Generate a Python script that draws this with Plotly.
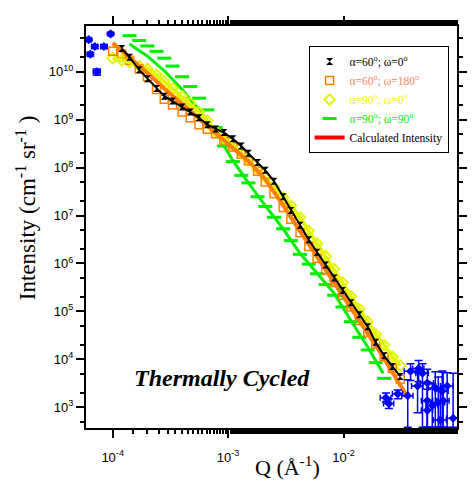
import plotly.graph_objects as go

# ---------------- data ----------------
q_grid = [1.0e-4, 1.2e-4, 1.4e-4, 1.7e-4, 2.0e-4, 2.4e-4, 2.8e-4, 3.3e-4, 4.0e-4, 4.7e-4,
          5.6e-4, 6.6e-4, 7.8e-4, 9.2e-4, 1.1e-3, 1.3e-3, 1.5e-3, 1.8e-3, 2.1e-3, 2.5e-3,
          3.0e-3, 3.5e-3, 4.2e-3, 5.0e-3, 5.9e-3, 7.0e-3, 8.3e-3, 9.8e-3, 1.16e-2, 1.37e-2,
          1.62e-2, 1.9e-2, 2.25e-2, 2.65e-2, 3.1e-2]

i_a60_w0 = [None, 3.08e10, 2.02e10, 1.10e10, 7.2e9, 4.5e9, 3.10e9, 2.45e9, 1.85e9, 1.46e9,
            1.10e9, 7.9e8, 6.4e8, 5.4e8, 4.0e8, 2.83e8, 1.99e8, 1.28e8, 8.8e7, 5.2e7,
            2.47e7, 1.28e7, 6.3e6, 3.14e6, 1.71e6, 9.3e5, 5.0e5, 2.74e5, 1.52e5, 8.5e4,
            4.8e4, 2.28e4, 1.18e4, 7.1e3, 4.4e3]

i_a60_w180 = [2.68e10, 2.33e10, 1.75e10, 1.15e10, 7.9e9, 4.3e9, 2.69e9, 2.03e9, 1.46e9, 1.10e9,
              7.9e8, 6.3e8, 5.1e8, 3.58e8, 2.70e8, 1.90e8, 1.40e8, 8.4e7, 5.0e7, 2.85e7,
              1.48e7, 8.4e6, 4.4e6, 2.26e6, 1.29e6, 7.3e5, 4.0e5, 2.17e5, 1.24e5, 6.4e4,
              3.65e4, 2.08e4, 1.13e4, 6.4e3, 3.85e3]

i_a90_w0 = [1.93e10, 1.75e10, 1.60e10, 1.32e10, 1.15e10, 8.7e9, 6.3e9, 4.5e9, 3.10e9, 2.23e9,
            1.46e9, 9.6e8, 5.7e8, 4.1e8, 2.97e8, 2.04e8, 1.44e8, 9.2e7, 6.3e7, 3.95e7,
            2.36e7, 1.62e7, 9.2e6, 4.8e6, 2.60e6, 1.42e6, 7.7e5, 4.0e5, 2.07e5, 1.12e5,
            6.1e4, 3.32e4, 1.98e4, 1.13e4, 7.4e3]

i_a90_w90 = [None, None, 5.7e10, 4.5e10, 3.47e10, 2.68e10, 1.93e10, 1.32e10, 7.9e9, 4.95e9,
             2.82e9, 1.61e9, 6.9e8, 2.83e8, 1.34e8, 6.9e7, 4.8e7, 2.47e7, 1.55e7, 9.2e6,
             5.3e6, 3.0e6, 1.55e6, 9.7e5, 6.1e5, 3.63e5, 2.17e5, 1.24e5, 6.1e4, 2.88e4,
             1.57e4, 8.5e3, 4.0e3, None, None]

# calculated intensity curves
q_fit_a60_w180 = [1.0e-4, 1.4e-4, 2.0e-4, 2.8e-4, 4.0e-4, 5.6e-4, 7.8e-4, 1.1e-3, 1.5e-3, 2.1e-3,
                  3.0e-3, 4.2e-3, 5.9e-3, 8.3e-3, 1.16e-2, 1.62e-2, 2.25e-2, 3.45e-2]
i_fit_a60_w180 = [3.99e10, 2.02e10, 9.5e9, 4.5e9, 2.13e9, 1.05e9, 4.98e8, 2.58e8, 1.37e8, 5.75e7,
                  1.62e7, 4.8e6, 1.42e6, 4.0e5, 1.18e5, 3.48e4, 1.03e4, 1.9e3]

q_fit_a90_w90 = [1.4e-4, 2.0e-4, 2.8e-4, 4.0e-4, 5.6e-4, 7.8e-4, 1.1e-3, 1.5e-3, 2.1e-3, 3.0e-3,
                 4.2e-3, 5.9e-3, 8.3e-3, 1.16e-2, 1.62e-2, 2.2e-2]
i_fit_a90_w90 = [3.80e10, 2.12e10, 1.05e10, 4.3e9, 1.61e9, 5.7e8, 1.40e8, 4.8e7, 1.62e7, 5.3e6,
                 1.63e6, 6.1e5, 2.38e5, 6.4e4, 1.81e4, 5.1e3]

# extra (blue) points at the Q-range ends
q_blue_low = [6.2e-5, 7.0e-5, 8.4e-5, 9.6e-5, 6.4e-5, 7.3e-5]
i_blue_low = [4.7e10, 3.39e10, 3.39e10, 6.2e10, 2.33e10, 1.0e10]
ie_blue_low = [3e9, 3e9, 3e9, 4e9, 2e9, 1.5e9]
qe_blue_low = [3e-6, 4e-6, 5e-6, 4e-6, 3e-6, 5e-6]

q_blue_high = [2.33e-2, 2.47e-2, 2.95e-2, 3.60e-2, 3.81e-2, 4.47e-2, 4.83e-2, 4.38e-2, 5.32e-2, 6.24e-2,
               5.32e-2, 5.87e-2, 6.62e-2, 7.3e-2, 5.32e-2, 6.89e-2, 8.9e-2, 7.16e-2, 7.9e-2]
i_blue_high = [1.58e3, 1.19e3, 1.90e3, 1.73e3, 5.6e3, 6.4e3, 5.1e3, 2.77e3, 3.19e3, 2.52e3,
               1.37e3, 1.08e3, 1.25e3, 1.37e3, 8.6e2, 5.4e2, 5.9e2, 2.19e3, 2.77e3]
ie_plus_blue_high = [4e2, 3e2, 4e2, 2.0e3, 2.5e3, 3.0e3, 3.0e3, 2.5e3, 3.0e3, 3.0e3,
                     2.0e3, 2.0e3, 3.0e3, 4.0e3, 1.5e3, 2.0e3, 4.5e3, 3.5e3, 2.5e3]
ie_minus_blue_high = [3e2, 2.5e2, 4e2, 1.35e3, 2.0e3, 3.0e3, 4.72e3, 2.0e3, 2.81e3, 2.14e3,
                      9.9e2, 7.0e2, 8.7e2, 9.9e2, 4.8e2, 1.6e2, 2.1e2, 1.81e3, 2.39e3]
qe_blue_high = [2.5e-3, 2.5e-3, 3e-3, 4e-3, 4.5e-3, 5e-3, 6e-3, 5e-3, 7e-3, 8e-3,
                6e-3, 7e-3, 9e-3, 9e-3, 6e-3, 9e-3, 1.1e-2, 9e-3, 1.0e-2]

x_tickvals = [1e-4, 1e-3, 1e-2]
x_ticktext = ["10<sup>-4</sup>", "10<sup>-3</sup>", "10<sup>-2</sup>"]
y_tickvals = [1e3, 1e4, 1e5, 1e6, 1e7, 1e8, 1e9, 1e10]
y_ticktext = ["10<sup>3</sup>", "10<sup>4</sup>", "10<sup>5</sup>", "10<sup>6</sup>",
              "10<sup>7</sup>", "10<sup>8</sup>", "10<sup>9</sup>", "10<sup>10</sup>"]

# ---------------- styles ----------------
C_BLACK = "#000000"
C_ORANGE = "#FF8000"
C_YELLOW = "#E1F500"
C_GREEN = "#00EE00"
C_BLUE = "#0000FF"
C_RED = "#FF0000"
SERIF = "Liberation Serif, Times New Roman"

fig = go.Figure()

# green data + fit
fig.add_trace(go.Scatter(x=q_grid, y=i_a90_w90, mode="markers",
                         marker=dict(symbol="line-ew", size=10, color=C_GREEN,
                                     line=dict(color=C_GREEN, width=3)),
                         name="<span style='color:#00EE00'>α=90<sup>o</sup>; ω=90<sup>o</sup></span>",
                         legendrank=4))
fig.add_trace(go.Scatter(x=q_fit_a90_w90, y=i_fit_a90_w90, mode="lines",
                         line=dict(color=C_GREEN, width=3), showlegend=False))

# yellow data
fig.add_trace(go.Scatter(x=q_grid, y=i_a90_w0, mode="markers",
                         marker=dict(symbol="diamond-open", size=8, color=C_YELLOW,
                                     line=dict(color=C_YELLOW, width=2)),
                         name="<span style='color:#F5F500'>α=90<sup>o</sup>; ω=0<sup>o</sup></span>",
                         legendrank=3))
# orange data
fig.add_trace(go.Scatter(x=q_grid, y=i_a60_w180, mode="markers",
                         marker=dict(symbol="square-open", size=8, color=C_ORANGE,
                                     line=dict(color=C_ORANGE, width=1.5)),
                         name="<span style='color:#F4875F'>α=60<sup>o</sup>; ω=180<sup>o</sup></span>",
                         legendrank=2))
# yellow fit
fig.add_trace(go.Scatter(x=q_grid, y=i_a90_w0, mode="lines",
                         line=dict(color=C_YELLOW, width=4), showlegend=False))
# orange fit
fig.add_trace(go.Scatter(x=q_fit_a60_w180, y=i_fit_a60_w180, mode="lines",
                         line=dict(color=C_ORANGE, width=4), showlegend=False))
# black data + fit
fig.add_trace(go.Scatter(x=q_grid, y=i_a60_w0, mode="markers",
                         marker=dict(symbol="hourglass", size=7, color=C_BLACK),
                         name="<span style='color:#000000'>α=60<sup>o</sup>; ω=0<sup>o</sup></span>",
                         legendrank=1))
fig.add_trace(go.Scatter(x=q_grid, y=i_a60_w0, mode="lines",
                         line=dict(color=C_BLACK, width=2), showlegend=False))

# blue points
fig.add_trace(go.Scatter(x=q_blue_low, y=i_blue_low, mode="markers",
                         marker=dict(symbol="diamond", size=7, color=C_BLUE),
                         error_y=dict(type="data", array=ie_blue_low, color=C_BLUE, thickness=1.5, width=4),
                         error_x=dict(type="data", array=qe_blue_low, color=C_BLUE, thickness=1.5, width=3),
                         showlegend=False))
fig.add_trace(go.Scatter(x=q_blue_high, y=i_blue_high, mode="markers",
                         marker=dict(symbol="diamond", size=7, color=C_BLUE),
                         error_y=dict(type="data", array=ie_plus_blue_high, arrayminus=ie_minus_blue_high,
                                      color=C_BLUE, thickness=1.5, width=4),
                         error_x=dict(type="data", array=qe_blue_high, color=C_BLUE, thickness=1.5, width=3),
                         showlegend=False))

# legend entry for calculated intensity
fig.add_trace(go.Scatter(x=[None], y=[None], mode="lines", line=dict(color=C_RED, width=4),
                         name="Calculated Intensity", legendrank=5))

axis_common = dict(type="log", showgrid=False, zeroline=False, showline=True,
                   linecolor="black", linewidth=2, mirror="allticks",
                   ticks="outside", ticklen=8, tickwidth=1.5, tickcolor="black",
                   tickfont=dict(family="Liberation Sans, Arial", size=13, color="black"),
                   minor=dict(ticks="outside", ticklen=4, tickwidth=1.5, tickcolor="black", showgrid=False))

fig.update_xaxes(range=[-4.231, -1.017], tickmode="array", tickvals=x_tickvals, ticktext=x_ticktext,
                 ticklabelstandoff=8, **axis_common)
fig.update_yaxes(range=[2.566, 10.957], tickmode="array", tickvals=y_tickvals, ticktext=y_ticktext,
                 **axis_common)

fig.update_layout(
    width=467, height=473,
    margin=dict(l=78, r=13, t=8, b=53),
    plot_bgcolor="white", paper_bgcolor="white",
    showlegend=True,
    legend=dict(x=0.6, y=0.95, xanchor="left", yanchor="top",
                bgcolor="white", bordercolor="black", borderwidth=1,
                font=dict(family=SERIF, size=11.5, color="black"),
                traceorder="normal"),
    annotations=[
        dict(text="Intensity (cm<sup>-1</sup> sr<sup>-1</sup> )", xref="paper", yref="paper",
             x=-0.162, y=0.549, xanchor="center", yanchor="middle", textangle=-90, showarrow=False,
             font=dict(family=SERIF, size=23, color="black")),
        dict(text="Q (Å<sup>-1</sup>)", xref="paper", yref="paper",
             x=0.543, y=-0.094, xanchor="center", yanchor="middle", showarrow=False,
             font=dict(family=SERIF, size=22, color="black")),
        dict(text="<b><i>Thermally Cycled</i></b>", xref="paper", yref="paper",
             x=0.367, y=0.124, xanchor="center", yanchor="middle", showarrow=False,
             font=dict(family=SERIF, size=24, color="black")),
    ],
)

fig.write_html("out.html")
